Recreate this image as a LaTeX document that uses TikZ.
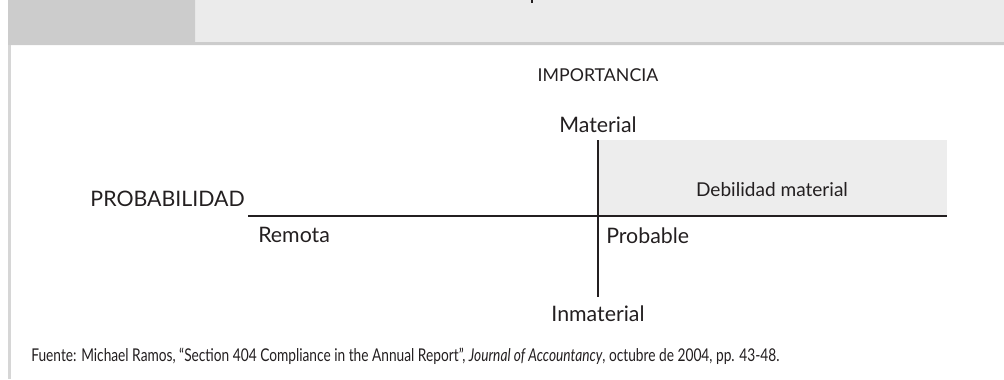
\documentclass[tikz,border=0pt]{standalone}
\usepackage{fontspec}
\setmainfont{Lato}
\newfontfamily\narrowfont[FakeStretch=0.78]{Lato}
\definecolor{ink}{HTML}{231F20}
\definecolor{headdark}{HTML}{CCCCCC}
\definecolor{headlight}{HTML}{EBEBEB}
\definecolor{boxgray}{HTML}{EDEDED}
\definecolor{sidegray}{HTML}{D6D6D6}
\begin{document}
\begin{tikzpicture}[x=0.75pt, y=-0.75pt, line join=round, line cap=butt]
				\tikzset{
					lbl/.style={inner sep=0pt, anchor=base, text=ink, font=\fontsize{16}{18}\selectfont},
					small lbl/.style={lbl, font=\fontsize{13.3}{15}\selectfont},
					axis/.style={draw=ink, line width=2pt}
				}
				%Khung
				\useasboundingbox (0,0) rectangle (1004,379);
				\fill[headlight] (195,0) rectangle (1004,42);
				\fill[headdark] (8,0) rectangle (195,45) (195,42) rectangle (1004,45);
				\fill[sidegray] (8,45) rectangle (11,379);
				\fill[ink] (531,0) rectangle (533,3);
				%Hai truc
				\def \xo{598}
				\def \yo{216}
				\fill[boxgray] (\xo,140) rectangle (947,\yo);
				\coordinate (left) at (248,\yo);
				\coordinate (right) at (947,\yo);
				\coordinate (top) at (\xo,140);
				\coordinate (bottom) at (\xo,297);
				\draw[axis] (left)--(right);
				\draw[axis] (top)--(bottom);
				%Nhan
				\node[small lbl] (importancia) at (\xo,81) {IMPORTANCIA};
				\node[lbl] (material) at (\xo,132) {Material};
				\node[lbl] (inmaterial) at (\xo,321) {Inmaterial};
				\node[lbl, anchor=base east] (probabilidad) at (245,206) {PROBABILIDAD};
				\node[lbl, anchor=base west] (remota) at (258,242) {Remota};
				\node[lbl, anchor=base west] (probable) at (606,243) {Probable};
				\node[lbl, font=\fontsize{14.3}{16}\selectfont] (debilidad) at (772,196) {Debilidad material};
				\node[lbl, anchor=base west, font=\narrowfont\fontsize{13.2}{15}\selectfont] (fuente) at (31,361)
					{Fuente: Michael Ramos, “Section 404 Compliance in the Annual Report”, \textit{Journal of Accountancy}, octubre de 2004, pp. 43-48.};
\end{tikzpicture}
\end{document}
